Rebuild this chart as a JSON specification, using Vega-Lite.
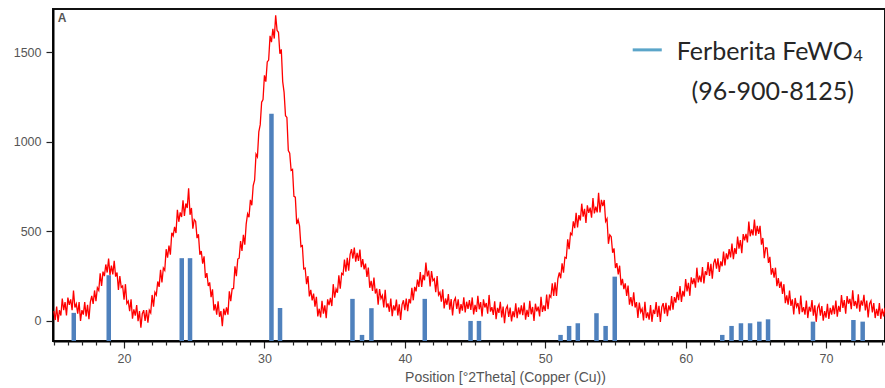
{
"$schema": "https://vega.github.io/schema/vega-lite/v6.json",
"width": 832, "height": 332,
"autosize": {"type": "none"},
"padding": {"left": 53, "top": 9, "right": 0, "bottom": 47},
"background": "white",
"config": {"view": {"stroke": "#111", "strokeWidth": 2}, "font": "Liberation Sans"},
"resolve": {"axis": {"x": "independent"}},
"datasets": {
"scan": [
{"pos":15.0,"cts":55},{"pos":15.1,"cts":5},{"pos":15.2,"cts":80},{"pos":15.3,"cts":-5},{"pos":15.4,"cts":60},{"pos":15.5,"cts":30},{"pos":15.6,"cts":125},{"pos":15.7,"cts":60},{"pos":15.8,"cts":105},{"pos":15.9,"cts":30},
{"pos":16.0,"cts":130},{"pos":16.1,"cts":90},{"pos":16.2,"cts":120},{"pos":16.3,"cts":60},{"pos":16.4,"cts":170},{"pos":16.5,"cts":75},{"pos":16.6,"cts":95},{"pos":16.7,"cts":40},{"pos":16.8,"cts":105},{"pos":16.9,"cts":0},
{"pos":17.0,"cts":60},{"pos":17.1,"cts":35},{"pos":17.2,"cts":105},{"pos":17.3,"cts":25},{"pos":17.4,"cts":90},{"pos":17.5,"cts":10},{"pos":17.6,"cts":105},{"pos":17.7,"cts":140},{"pos":17.8,"cts":95},{"pos":17.9,"cts":170},
{"pos":18.0,"cts":110},{"pos":18.1,"cts":185},{"pos":18.2,"cts":170},{"pos":18.3,"cts":265},{"pos":18.4,"cts":195},{"pos":18.5,"cts":275},{"pos":18.6,"cts":250},{"pos":18.7,"cts":315},{"pos":18.8,"cts":270},{"pos":18.9,"cts":348},
{"pos":19.0,"cts":255},{"pos":19.1,"cts":308},{"pos":19.2,"cts":260},{"pos":19.3,"cts":335},{"pos":19.4,"cts":247},{"pos":19.5,"cts":270},{"pos":19.6,"cts":173},{"pos":19.7,"cts":250},{"pos":19.8,"cts":187},{"pos":19.9,"cts":195},
{"pos":20.0,"cts":118},{"pos":20.1,"cts":205},{"pos":20.2,"cts":97},{"pos":20.3,"cts":110},{"pos":20.4,"cts":55},{"pos":20.5,"cts":120},{"pos":20.6,"cts":12},{"pos":20.7,"cts":65},{"pos":20.8,"cts":30},{"pos":20.9,"cts":88},
{"pos":21.0,"cts":-2},{"pos":21.1,"cts":55},{"pos":21.2,"cts":-38},{"pos":21.3,"cts":40},{"pos":21.4,"cts":60},{"pos":21.5,"cts":0},{"pos":21.6,"cts":60},{"pos":21.7,"cts":-10},{"pos":21.8,"cts":60},{"pos":21.9,"cts":45},
{"pos":22.0,"cts":145},{"pos":22.1,"cts":80},{"pos":22.2,"cts":160},{"pos":22.3,"cts":145},{"pos":22.4,"cts":220},{"pos":22.5,"cts":190},{"pos":22.6,"cts":285},{"pos":22.7,"cts":215},{"pos":22.8,"cts":295},{"pos":22.9,"cts":282},
{"pos":23.0,"cts":400},{"pos":23.1,"cts":353},{"pos":23.2,"cts":420},{"pos":23.3,"cts":370},{"pos":23.4,"cts":492},{"pos":23.5,"cts":475},{"pos":23.6,"cts":525},{"pos":23.7,"cts":490},{"pos":23.8,"cts":620},{"pos":23.9,"cts":553},
{"pos":24.0,"cts":605},{"pos":24.1,"cts":580},{"pos":24.2,"cts":673},{"pos":24.3,"cts":586},{"pos":24.4,"cts":655},{"pos":24.5,"cts":630},{"pos":24.6,"cts":740},{"pos":24.7,"cts":592},{"pos":24.8,"cts":630},{"pos":24.9,"cts":515},
{"pos":25.0,"cts":565},{"pos":25.1,"cts":555},{"pos":25.2,"cts":462},{"pos":25.3,"cts":483},{"pos":25.4,"cts":369},{"pos":25.5,"cts":390},{"pos":25.6,"cts":320},{"pos":25.7,"cts":360},{"pos":25.8,"cts":240},{"pos":25.9,"cts":267},
{"pos":26.0,"cts":195},{"pos":26.1,"cts":215},{"pos":26.2,"cts":132},{"pos":26.3,"cts":176},{"pos":26.4,"cts":58},{"pos":26.5,"cts":93},{"pos":26.6,"cts":35},{"pos":26.7,"cts":110},{"pos":26.8,"cts":23},{"pos":26.9,"cts":55},
{"pos":27.0,"cts":-30},{"pos":27.1,"cts":68},{"pos":27.2,"cts":33},{"pos":27.3,"cts":75},{"pos":27.4,"cts":35},{"pos":27.5,"cts":165},{"pos":27.6,"cts":110},{"pos":27.7,"cts":180},{"pos":27.8,"cts":180},{"pos":27.9,"cts":305},
{"pos":28.0,"cts":250},{"pos":28.1,"cts":345},{"pos":28.2,"cts":350},{"pos":28.3,"cts":445},{"pos":28.4,"cts":390},{"pos":28.5,"cts":480},{"pos":28.6,"cts":425},{"pos":28.7,"cts":540},{"pos":28.8,"cts":598},{"pos":28.9,"cts":578},
{"pos":29.0,"cts":675},{"pos":29.1,"cts":645},{"pos":29.2,"cts":755},{"pos":29.3,"cts":785},{"pos":29.4,"cts":930},{"pos":29.5,"cts":915},{"pos":29.6,"cts":1055},{"pos":29.7,"cts":1095},{"pos":29.8,"cts":1220},{"pos":29.9,"cts":1235},
{"pos":30.0,"cts":1370},{"pos":30.1,"cts":1335},{"pos":30.2,"cts":1445},{"pos":30.3,"cts":1455},{"pos":30.4,"cts":1590},{"pos":30.5,"cts":1555},{"pos":30.6,"cts":1630},{"pos":30.7,"cts":1575},{"pos":30.8,"cts":1705},{"pos":30.9,"cts":1620},
{"pos":31.0,"cts":1610},{"pos":31.1,"cts":1490},{"pos":31.2,"cts":1515},{"pos":31.3,"cts":1335},{"pos":31.4,"cts":1275},{"pos":31.5,"cts":1145},{"pos":31.6,"cts":1135},{"pos":31.7,"cts":950},{"pos":31.8,"cts":935},{"pos":31.9,"cts":840},
{"pos":32.0,"cts":845},{"pos":32.1,"cts":695},{"pos":32.2,"cts":690},{"pos":32.3,"cts":540},{"pos":32.4,"cts":565},{"pos":32.5,"cts":530},{"pos":32.6,"cts":415},{"pos":32.7,"cts":420},{"pos":32.8,"cts":290},{"pos":32.9,"cts":295},
{"pos":33.0,"cts":205},{"pos":33.1,"cts":250},{"pos":33.2,"cts":137},{"pos":33.3,"cts":173},{"pos":33.4,"cts":115},{"pos":33.5,"cts":152},{"pos":33.6,"cts":80},{"pos":33.7,"cts":135},{"pos":33.8,"cts":25},{"pos":33.9,"cts":68},
{"pos":34.0,"cts":20},{"pos":34.1,"cts":112},{"pos":34.2,"cts":41},{"pos":34.3,"cts":87},{"pos":34.4,"cts":15},{"pos":34.5,"cts":120},{"pos":34.6,"cts":88},{"pos":34.7,"cts":128},{"pos":34.8,"cts":83},{"pos":34.9,"cts":205},
{"pos":35.0,"cts":130},{"pos":35.1,"cts":178},{"pos":35.2,"cts":157},{"pos":35.3,"cts":255},{"pos":35.4,"cts":180},{"pos":35.5,"cts":265},{"pos":35.6,"cts":258},{"pos":35.7,"cts":342},{"pos":35.8,"cts":275},{"pos":35.9,"cts":352},
{"pos":36.0,"cts":280},{"pos":36.1,"cts":370},{"pos":36.2,"cts":400},{"pos":36.3,"cts":348},{"pos":36.4,"cts":409},{"pos":36.5,"cts":330},{"pos":36.6,"cts":380},{"pos":36.7,"cts":335},{"pos":36.8,"cts":398},{"pos":36.9,"cts":300},
{"pos":37.0,"cts":345},{"pos":37.1,"cts":287},{"pos":37.2,"cts":320},{"pos":37.3,"cts":245},{"pos":37.4,"cts":298},{"pos":37.5,"cts":185},{"pos":37.6,"cts":223},{"pos":37.7,"cts":167},{"pos":37.8,"cts":242},{"pos":37.9,"cts":153},
{"pos":38.0,"cts":180},{"pos":38.1,"cts":91},{"pos":38.2,"cts":178},{"pos":38.3,"cts":125},{"pos":38.4,"cts":142},{"pos":38.5,"cts":75},{"pos":38.6,"cts":173},{"pos":38.7,"cts":75},{"pos":38.8,"cts":98},{"pos":38.9,"cts":51},
{"pos":39.0,"cts":125},{"pos":39.1,"cts":26},{"pos":39.2,"cts":87},{"pos":39.3,"cts":58},{"pos":39.4,"cts":119},{"pos":39.5,"cts":30},{"pos":39.6,"cts":92},{"pos":39.7,"cts":5},{"pos":39.8,"cts":90},{"pos":39.9,"cts":115},
{"pos":40.0,"cts":60},{"pos":40.1,"cts":125},{"pos":40.2,"cts":55},{"pos":40.3,"cts":122},{"pos":40.4,"cts":98},{"pos":40.5,"cts":185},{"pos":40.6,"cts":115},{"pos":40.7,"cts":190},{"pos":40.8,"cts":165},{"pos":40.9,"cts":230},
{"pos":41.0,"cts":190},{"pos":41.1,"cts":272},{"pos":41.2,"cts":190},{"pos":41.3,"cts":257},{"pos":41.4,"cts":227},{"pos":41.5,"cts":325},{"pos":41.6,"cts":248},{"pos":41.7,"cts":281},{"pos":41.8,"cts":192},{"pos":41.9,"cts":278},
{"pos":42.0,"cts":225},{"pos":42.1,"cts":235},{"pos":42.2,"cts":160},{"pos":42.3,"cts":250},{"pos":42.4,"cts":145},{"pos":42.5,"cts":160},{"pos":42.6,"cts":108},{"pos":42.7,"cts":176},{"pos":42.8,"cts":70},{"pos":42.9,"cts":125},
{"pos":43.0,"cts":90},{"pos":43.1,"cts":150},{"pos":43.2,"cts":63},{"pos":43.3,"cts":122},{"pos":43.4,"cts":30},{"pos":43.5,"cts":110},{"pos":43.6,"cts":128},{"pos":43.7,"cts":67},{"pos":43.8,"cts":121},{"pos":43.9,"cts":40},
{"pos":44.0,"cts":94},{"pos":44.1,"cts":57},{"pos":44.2,"cts":132},{"pos":44.3,"cts":47},{"pos":44.4,"cts":107},{"pos":44.5,"cts":67},{"pos":44.6,"cts":116},{"pos":44.7,"cts":61},{"pos":44.8,"cts":131},{"pos":44.9,"cts":36},
{"pos":45.0,"cts":90},{"pos":45.1,"cts":50},{"pos":45.2,"cts":140},{"pos":45.3,"cts":65},{"pos":45.4,"cts":105},{"pos":45.5,"cts":25},{"pos":45.6,"cts":120},{"pos":45.7,"cts":75},{"pos":45.8,"cts":100},{"pos":45.9,"cts":40},
{"pos":46.0,"cts":145},{"pos":46.1,"cts":52},{"pos":46.2,"cts":77},{"pos":46.3,"cts":33},{"pos":46.4,"cts":109},{"pos":46.5,"cts":10},{"pos":46.6,"cts":73},{"pos":46.7,"cts":45},{"pos":46.8,"cts":107},{"pos":46.9,"cts":20},
{"pos":47.0,"cts":80},{"pos":47.1,"cts":-12},{"pos":47.2,"cts":66},{"pos":47.3,"cts":84},{"pos":47.4,"cts":22},{"pos":47.5,"cts":75},{"pos":47.6,"cts":-3},{"pos":47.7,"cts":54},{"pos":47.8,"cts":21},{"pos":47.9,"cts":98},
{"pos":48.0,"cts":15},{"pos":48.1,"cts":75},{"pos":48.2,"cts":36},{"pos":48.3,"cts":87},{"pos":48.4,"cts":32},{"pos":48.5,"cts":102},{"pos":48.6,"cts":7},{"pos":48.7,"cts":62},{"pos":48.8,"cts":22},{"pos":48.9,"cts":112},
{"pos":49.0,"cts":37},{"pos":49.1,"cts":78},{"pos":49.2,"cts":0},{"pos":49.3,"cts":96},{"pos":49.4,"cts":53},{"pos":49.5,"cts":80},{"pos":49.6,"cts":25},{"pos":49.7,"cts":135},{"pos":49.8,"cts":50},{"pos":49.9,"cts":87},
{"pos":50.0,"cts":55},{"pos":50.1,"cts":147},{"pos":50.2,"cts":65},{"pos":50.3,"cts":143},{"pos":50.4,"cts":132},{"pos":50.5,"cts":210},{"pos":50.6,"cts":140},{"pos":50.7,"cts":215},{"pos":50.8,"cts":140},{"pos":50.9,"cts":235},
{"pos":51.0,"cts":270},{"pos":51.1,"cts":238},{"pos":51.2,"cts":321},{"pos":51.3,"cts":269},{"pos":51.4,"cts":355},{"pos":51.5,"cts":350},{"pos":51.6,"cts":455},{"pos":51.7,"cts":400},{"pos":51.8,"cts":490},{"pos":51.9,"cts":480},
{"pos":52.0,"cts":555},{"pos":52.1,"cts":517},{"pos":52.2,"cts":603},{"pos":52.3,"cts":522},{"pos":52.4,"cts":590},{"pos":52.5,"cts":560},{"pos":52.6,"cts":654},{"pos":52.7,"cts":582},{"pos":52.8,"cts":625},{"pos":52.9,"cts":547},
{"pos":53.0,"cts":645},{"pos":53.1,"cts":603},{"pos":53.2,"cts":632},{"pos":53.3,"cts":576},{"pos":53.4,"cts":685},{"pos":53.5,"cts":600},{"pos":53.6,"cts":637},{"pos":53.7,"cts":605},{"pos":53.8,"cts":715},{"pos":53.9,"cts":605},
{"pos":54.0,"cts":675},{"pos":54.1,"cts":640},{"pos":54.2,"cts":675},{"pos":54.3,"cts":555},{"pos":54.4,"cts":570},{"pos":54.5,"cts":430},{"pos":54.6,"cts":480},{"pos":54.7,"cts":470},{"pos":54.8,"cts":380},{"pos":54.9,"cts":405},
{"pos":55.0,"cts":295},{"pos":55.1,"cts":322},{"pos":55.2,"cts":260},{"pos":55.3,"cts":308},{"pos":55.4,"cts":199},{"pos":55.5,"cts":235},{"pos":55.6,"cts":177},{"pos":55.7,"cts":210},{"pos":55.8,"cts":140},{"pos":55.9,"cts":197},
{"pos":56.0,"cts":91},{"pos":56.1,"cts":133},{"pos":56.2,"cts":82},{"pos":56.3,"cts":160},{"pos":56.4,"cts":75},{"pos":56.5,"cts":105},{"pos":56.6,"cts":17},{"pos":56.7,"cts":102},{"pos":56.8,"cts":49},{"pos":56.9,"cts":68},
{"pos":57.0,"cts":3},{"pos":57.1,"cts":107},{"pos":57.2,"cts":16},{"pos":57.3,"cts":47},{"pos":57.4,"cts":7},{"pos":57.5,"cts":88},{"pos":57.6,"cts":-5},{"pos":57.7,"cts":62},{"pos":57.8,"cts":39},{"pos":57.9,"cts":105},
{"pos":58.0,"cts":22},{"pos":58.1,"cts":84},{"pos":58.2,"cts":-5},{"pos":58.3,"cts":77},{"pos":58.4,"cts":99},{"pos":58.5,"cts":41},{"pos":58.6,"cts":101},{"pos":58.7,"cts":26},{"pos":58.8,"cts":87},{"pos":58.9,"cts":58},
{"pos":59.0,"cts":139},{"pos":59.1,"cts":63},{"pos":59.2,"cts":133},{"pos":59.3,"cts":102},{"pos":59.4,"cts":162},{"pos":59.5,"cts":116},{"pos":59.6,"cts":194},{"pos":59.7,"cts":106},{"pos":59.8,"cts":168},{"pos":59.9,"cts":136},
{"pos":60.0,"cts":233},{"pos":60.1,"cts":165},{"pos":60.2,"cts":213},{"pos":60.3,"cts":140},{"pos":60.4,"cts":243},{"pos":60.5,"cts":205},{"pos":60.6,"cts":238},{"pos":60.7,"cts":185},{"pos":60.8,"cts":297},{"pos":60.9,"cts":215},
{"pos":61.0,"cts":252},{"pos":61.1,"cts":216},{"pos":61.2,"cts":300},{"pos":61.3,"cts":209},{"pos":61.4,"cts":277},{"pos":61.5,"cts":256},{"pos":61.6,"cts":328},{"pos":61.7,"cts":251},{"pos":61.8,"cts":318},{"pos":61.9,"cts":236},
{"pos":62.0,"cts":323},{"pos":62.1,"cts":347},{"pos":62.2,"cts":291},{"pos":62.3,"cts":349},{"pos":62.4,"cts":273},{"pos":62.5,"cts":332},{"pos":62.6,"cts":305},{"pos":62.7,"cts":387},{"pos":62.8,"cts":309},{"pos":62.9,"cts":377},
{"pos":63.0,"cts":344},{"pos":63.1,"cts":401},{"pos":63.2,"cts":354},{"pos":63.3,"cts":431},{"pos":63.4,"cts":344},{"pos":63.5,"cts":406},{"pos":63.6,"cts":373},{"pos":63.7,"cts":471},{"pos":63.8,"cts":403},{"pos":63.9,"cts":451},
{"pos":64.0,"cts":378},{"pos":64.1,"cts":484},{"pos":64.2,"cts":450},{"pos":64.3,"cts":486},{"pos":64.4,"cts":438},{"pos":64.5,"cts":554},{"pos":64.6,"cts":472},{"pos":64.7,"cts":510},{"pos":64.8,"cts":477},{"pos":64.9,"cts":565},
{"pos":65.0,"cts":476},{"pos":65.1,"cts":530},{"pos":65.2,"cts":485},{"pos":65.3,"cts":530},{"pos":65.4,"cts":425},{"pos":65.5,"cts":463},{"pos":65.6,"cts":350},{"pos":65.7,"cts":408},{"pos":65.8,"cts":406},{"pos":65.9,"cts":324},
{"pos":66.0,"cts":357},{"pos":66.1,"cts":258},{"pos":66.2,"cts":294},{"pos":66.3,"cts":241},{"pos":66.4,"cts":297},{"pos":66.5,"cts":194},{"pos":66.6,"cts":239},{"pos":66.7,"cts":184},{"pos":66.8,"cts":219},{"pos":66.9,"cts":150},
{"pos":67.0,"cts":205},{"pos":67.1,"cts":99},{"pos":67.2,"cts":142},{"pos":67.3,"cts":91},{"pos":67.4,"cts":170},{"pos":67.5,"cts":84},{"pos":67.6,"cts":120},{"pos":67.7,"cts":36},{"pos":67.8,"cts":128},{"pos":67.9,"cts":79},
{"pos":68.0,"cts":100},{"pos":68.1,"cts":38},{"pos":68.2,"cts":141},{"pos":68.3,"cts":49},{"pos":68.4,"cts":77},{"pos":68.5,"cts":35},{"pos":68.6,"cts":113},{"pos":68.7,"cts":16},{"pos":68.8,"cts":79},{"pos":68.9,"cts":52},
{"pos":69.0,"cts":116},{"pos":69.1,"cts":29},{"pos":69.2,"cts":87},{"pos":69.3,"cts":-5},{"pos":69.4,"cts":74},{"pos":69.5,"cts":92},{"pos":69.6,"cts":30},{"pos":69.7,"cts":83},{"pos":69.8,"cts":1},{"pos":69.9,"cts":55},
{"pos":70.0,"cts":18},{"pos":70.1,"cts":95},{"pos":70.2,"cts":11},{"pos":70.3,"cts":73},{"pos":70.4,"cts":35},{"pos":70.5,"cts":87},{"pos":70.6,"cts":38},{"pos":70.7,"cts":113},{"pos":70.8,"cts":24},{"pos":70.9,"cts":84},
{"pos":71.0,"cts":50},{"pos":71.1,"cts":144},{"pos":71.2,"cts":73},{"pos":71.3,"cts":116},{"pos":71.4,"cts":40},{"pos":71.5,"cts":139},{"pos":71.6,"cts":96},{"pos":71.7,"cts":123},{"pos":71.8,"cts":65},{"pos":71.9,"cts":171},
{"pos":72.0,"cts":83},{"pos":72.1,"cts":111},{"pos":72.2,"cts":69},{"pos":72.3,"cts":148},{"pos":72.4,"cts":51},{"pos":72.5,"cts":114},{"pos":72.6,"cts":85},{"pos":72.7,"cts":146},{"pos":72.8,"cts":58},{"pos":72.9,"cts":114},
{"pos":73.0,"cts":20},{"pos":73.1,"cts":96},{"pos":73.2,"cts":112},{"pos":73.3,"cts":48},{"pos":73.4,"cts":100},{"pos":73.5,"cts":16},{"pos":73.6,"cts":67},{"pos":73.7,"cts":28},{"pos":73.8,"cts":100},{"pos":73.9,"cts":11},
{"pos":74.0,"cts":68},{"pos":74.1,"cts":25},{"pos":74.2,"cts":73}
],
"ref": [
{"pos":16.42,"rel":45},{"pos":18.91,"rel":255},{"pos":24.11,"rel":350},{"pos":24.70,"rel":350},{"pos":30.50,"rel":1155},{"pos":31.11,"rel":72},
{"pos":36.27,"rel":123},{"pos":36.95,"rel":-78},{"pos":37.62,"rel":71},{"pos":41.42,"rel":123},{"pos":44.68,"rel":0},{"pos":45.28,"rel":0},
{"pos":51.09,"rel":-78},{"pos":51.70,"rel":-28},{"pos":52.32,"rel":-13},{"pos":53.65,"rel":43},{"pos":54.30,"rel":-28},{"pos":54.95,"rel":247},
{"pos":62.61,"rel":-78},{"pos":63.27,"rel":-28},{"pos":63.94,"rel":-13},{"pos":64.59,"rel":-13},{"pos":65.25,"rel":-4},{"pos":65.87,"rel":9},
{"pos":69.07,"rel":-4},{"pos":71.95,"rel":5},{"pos":72.61,"rel":-4}
],
"notes": [{"phase": "Ferberita FeWO", "sub": "4", "card": "(96-900-8125)", "panel": "A"}]
},
"layer": [
{
"data": {"name": "scan"},
"mark": {"type": "line", "color": "#ff0000", "strokeWidth": 1.3, "clip": true},
"encoding": {
"x": {"field": "pos", "type": "quantitative",
"scale": {"domain": [14.94, 74.2], "nice": false, "zero": false},
"axis": {"orient": "bottom", "values": [20, 30, 40, 50, 60, 70], "format": "d",
"labelOverlap": false, "labelFlush": false, "tickSize": 7,
"grid": false, "domainColor": "#000", "domainWidth": 2, "tickColor": "#222", "tickWidth": 1.2,
"labelFontSize": 12.5, "labelColor": "#555", "labelPadding": 4,
"title": "Position [°2Theta] (Copper (Cu))", "titleFontSize": 14, "titleFontWeight": "normal", "titleColor": "#555",
"titlePadding": 6, "titleX": 452}},
"y": {"field": "cts", "type": "quantitative",
"scale": {"domain": [-112, 1740], "nice": false, "zero": false},
"axis": {"values": [0, 500, 1000, 1500], "format": "d", "title": null, "grid": false, "domainColor": "#000", "domainWidth": 2,
"tickColor": "#222", "tickWidth": 1.2, "tickSize": 7, "labelPadding": 5, "labelFontSize": 12.5, "labelColor": "#555"}}
}
},
{
"data": {"name": "ref"},
"mark": {"type": "rule", "color": "#4f81bd", "strokeWidth": 4.5},
"encoding": {
"x": {"field": "pos", "type": "quantitative",
"axis": {"orient": "bottom", "values": [15,16,17,18,19,21,22,23,24,25,26,27,28,29,31,32,33,34,35,36,37,38,39,41,42,43,44,45,46,47,48,49,51,52,53,54,55,56,57,58,59,61,62,63,64,65,66,67,68,69,71,72,73,74],
"labels": false, "domain": false, "title": null, "grid": false, "tickSize": 4, "tickColor": "#222", "tickWidth": 1.2}},
"y": {"field": "rel", "type": "quantitative"},
"y2": {"datum": -112}
}
},
{
"data": {"name": "notes"},
"mark": {"type": "rule", "color": "#5ba5c9", "strokeWidth": 3},
"encoding": {"x": {"datum": 56.23, "axis": null}, "x2": {"datum": 58.3}, "y": {"datum": 1512}}
},
{
"data": {"name": "notes"},
"mark": {"type": "text", "font": "Lato", "fontSize": 25, "color": "#262626", "align": "left", "baseline": "alphabetic"},
"encoding": {"x": {"datum": 59.37, "axis": null}, "y": {"datum": 1456}, "text": {"field": "phase"}}
},
{
"data": {"name": "notes"},
"mark": {"type": "text", "font": "Lato", "fontSize": 16, "color": "#262626", "align": "left", "baseline": "alphabetic"},
"encoding": {"x": {"datum": 71.95, "axis": null}, "y": {"datum": 1450}, "text": {"field": "sub"}}
},
{
"data": {"name": "notes"},
"mark": {"type": "text", "font": "Lato", "fontSize": 25, "color": "#262626", "align": "center", "baseline": "alphabetic"},
"encoding": {"x": {"datum": 66.2, "axis": null}, "y": {"datum": 1233}, "text": {"field": "card"}}
},
{
"data": {"name": "notes"},
"mark": {"type": "text", "font": "Liberation Sans", "fontSize": 12, "fontWeight": "bold", "color": "#555", "align": "left", "baseline": "alphabetic"},
"encoding": {"x": {"datum": 15.28, "axis": null}, "y": {"datum": 1670}, "text": {"field": "panel"}}
}
]
}
